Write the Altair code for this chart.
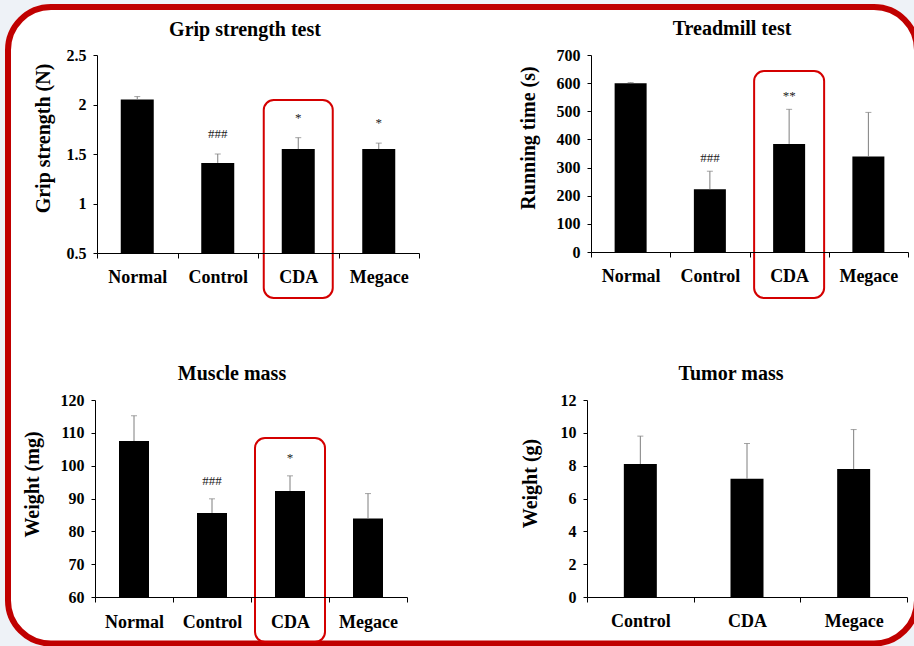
import altair as alt
import pandas as pd

FONT = "Liberation Serif"
GRAY = "#7f7f7f"
RED_FRAME = "#c00000"
RED_BOX = "#d40000"
BG = "#eef2f7"
W, H = 914, 646

# ---- data -------------------------------------------------------------
# Grip strength test, N
grip_groups = ["Normal", "Control", "CDA", "Megace"]
grip_mean = [2.05, 1.41, 1.55, 1.55]
grip_err = [0.03, 0.09, 0.115, 0.06]
grip_sig = ["", "###", "*", "*"]
grip_ticks = [0.5, 1, 1.5, 2, 2.5]

# Treadmill test, running time in s
tread_groups = ["Normal", "Control", "CDA", "Megace"]
tread_mean = [600, 223, 384, 339]
tread_err = [2, 64, 123, 157]
tread_sig = ["", "###", "**", ""]
tread_ticks = [0, 100, 200, 300, 400, 500, 600, 700]

# Muscle mass, mg
muscle_groups = ["Normal", "Control", "CDA", "Megace"]
muscle_mean = [107.5, 85.6, 92.3, 83.9]
muscle_err = [7.7, 4.3, 4.6, 7.6]
muscle_sig = ["", "###", "*", ""]
muscle_ticks = [60, 70, 80, 90, 100, 110, 120]

# Tumor mass, g
tumor_groups = ["Control", "CDA", "Megace"]
tumor_mean = [8.1, 7.2, 7.8]
tumor_err = [1.7, 2.15, 2.4]
tumor_sig = ["", "", ""]
tumor_ticks = [0, 2, 4, 6, 8, 10, 12]


def panel(groups, mean, err, sig, ticks, *, title, ytitle, ydomain, xr, yr,
          bar_w, title_pos, ytitle_pos, label_pad, sig_dy, box=None):
    """Returns the list of layers of one bar panel; every layer carries the
    same explicit scales so the panel lines up inside the shared canvas."""
    df = pd.DataFrame({"group": groups, "mean": mean, "err": err, "sig": sig})
    df["top"] = df["mean"] + df["err"]

    def xs():
        return alt.Scale(domain=groups, range=list(xr), paddingInner=0, paddingOuter=0)

    def ys():
        return alt.Scale(domain=list(ydomain), range=list(yr), zero=False, nice=False)

    x_axis = alt.Axis(
        orient="bottom", offset=yr[0] - H, tickBand="extent", labelAngle=0,
        labelFont=FONT, labelFontSize=18, labelFontWeight="bold", labelColor="black",
        labelPadding=label_pad, tickSize=5, tickColor="black", domainColor="black",
        grid=False, title=None, zindex=1,
    )
    y_axis = alt.Axis(
        orient="left", offset=-xr[0], values=ticks, format="~r", grid=False,
        labelFont=FONT, labelFontSize=16, labelFontWeight="bold", labelColor="black",
        labelPadding=7, labelFlush=False, labelOverlap=False,
        tickSize=4, tickColor="black", domainColor="black",
        title=ytitle, titleFont=FONT, titleFontSize=20, titleFontWeight="bold",
        titleColor="black", titleAngle=270, titleAlign="center",
        titleBaseline="alphabetic",
        titleX=ytitle_pos[0] - xr[0], titleY=ytitle_pos[1], zindex=1,
    )

    def xp():
        return alt.X("group:N", scale=xs(), axis=None)

    base = alt.Chart(df)
    bars = base.mark_bar(width=bar_w, color="black").encode(
        x=alt.X("group:N", scale=xs(), axis=x_axis),
        y=alt.Y("mean:Q", scale=ys(), axis=y_axis),
        y2=alt.datum(ydomain[0]),
    )
    whiskers = base.mark_rule(color=GRAY, strokeWidth=1).encode(
        x=xp(), y=alt.Y("mean:Q", scale=ys(), axis=None), y2="top:Q"
    )
    caps = base.mark_tick(color=GRAY, thickness=1, size=6).encode(
        x=xp(), y=alt.Y("top:Q", scale=ys(), axis=None)
    )
    marks = base.transform_filter("datum.sig != ''").mark_text(
        font=FONT, fontSize=13, color="#222222", baseline="alphabetic", dy=sig_dy
    ).encode(x=xp(), y=alt.Y("top:Q", scale=ys(), axis=None), text="sig:N")

    head = alt.Chart(pd.DataFrame({"t": [title]})).mark_text(
        font=FONT, fontSize=20, fontWeight="bold", color="black",
        align="center", baseline="alphabetic",
    ).encode(x=alt.value(title_pos[0]), y=alt.value(title_pos[1]), text="t:N")

    layers = [bars, whiskers, caps, marks, head]
    if box is not None:
        hl = alt.Chart(pd.DataFrame({"group": [box["group"]]})).mark_bar(
            orient="vertical", width=box["w"], fillOpacity=0, stroke=RED_BOX,
            strokeWidth=2, cornerRadius=10,
        ).encode(x=xp(), y=alt.value(box["top"]), y2=alt.value(box["bottom"]))
        layers.append(hl)
    return layers


grip = panel(
    grip_groups, grip_mean, grip_err, grip_sig, grip_ticks,
    title="Grip strength test", ytitle="Grip strength (N)", ydomain=(0.5, 2.5),
    xr=(97, 419), yr=(253, 55), bar_w=33, title_pos=(245, 36),
    ytitle_pos=(49, 138), label_pad=10, sig_dy=-16,
    box={"group": "CDA", "w": 69, "top": 100, "bottom": 298},
)
tread = panel(
    tread_groups, tread_mean, tread_err, tread_sig, tread_ticks,
    title="Treadmill test", ytitle="Running time (s)", ydomain=(0, 700),
    xr=(591, 908), yr=(252, 55), bar_w=32, title_pos=(732, 35),
    ytitle_pos=(534, 137.5), label_pad=10.5, sig_dy=-9,
    box={"group": "CDA", "w": 70, "top": 71, "bottom": 298},
)
muscle = panel(
    muscle_groups, muscle_mean, muscle_err, muscle_sig, muscle_ticks,
    title="Muscle mass", ytitle="Weight (mg)", ydomain=(60, 120),
    xr=(95, 407), yr=(597, 400), bar_w=30, title_pos=(232, 380),
    ytitle_pos=(38, 484), label_pad=11, sig_dy=-14,
    box={"group": "CDA", "w": 70, "top": 438, "bottom": 642},
)
tumor = panel(
    tumor_groups, tumor_mean, tumor_err, tumor_sig, tumor_ticks,
    title="Tumor mass", ytitle="Weight (g)", ydomain=(0, 12),
    xr=(587, 907), yr=(597, 400), bar_w=33, title_pos=(731, 380),
    ytitle_pos=(536, 483), label_pad=10.5, sig_dy=-10,
)

# slide surround: a wide grey stroke outside the rounded frame
one = pd.DataFrame({"k": [0]})
surround = alt.Chart(one).mark_rect(
    clip=True, cornerRadius=76, fillOpacity=0, stroke=BG, strokeWidth=60
).encode(x=alt.value(-25), x2=alt.value(950), y=alt.value(-26), y2=alt.value(676.5))
# rounded red frame, cut off at the right edge
frame = alt.Chart(one).mark_rect(
    clip=True, cornerRadius=43, fillOpacity=0, stroke=RED_FRAME, strokeWidth=6
).encode(x=alt.value(8), x2=alt.value(917), y=alt.value(7), y2=alt.value(643.5))

chart = (
    alt.layer(surround, frame, *grip, *tread, *muscle, *tumor)
    .resolve_scale(x="independent", y="independent")
    .properties(
        width=W, height=H, padding=0, background="white",
        autosize=alt.AutoSizeParams(type="none"),
    )
    .configure_view(stroke=None)
)

chart.save("out.html", embed_options={"renderer": "svg", "actions": False})
